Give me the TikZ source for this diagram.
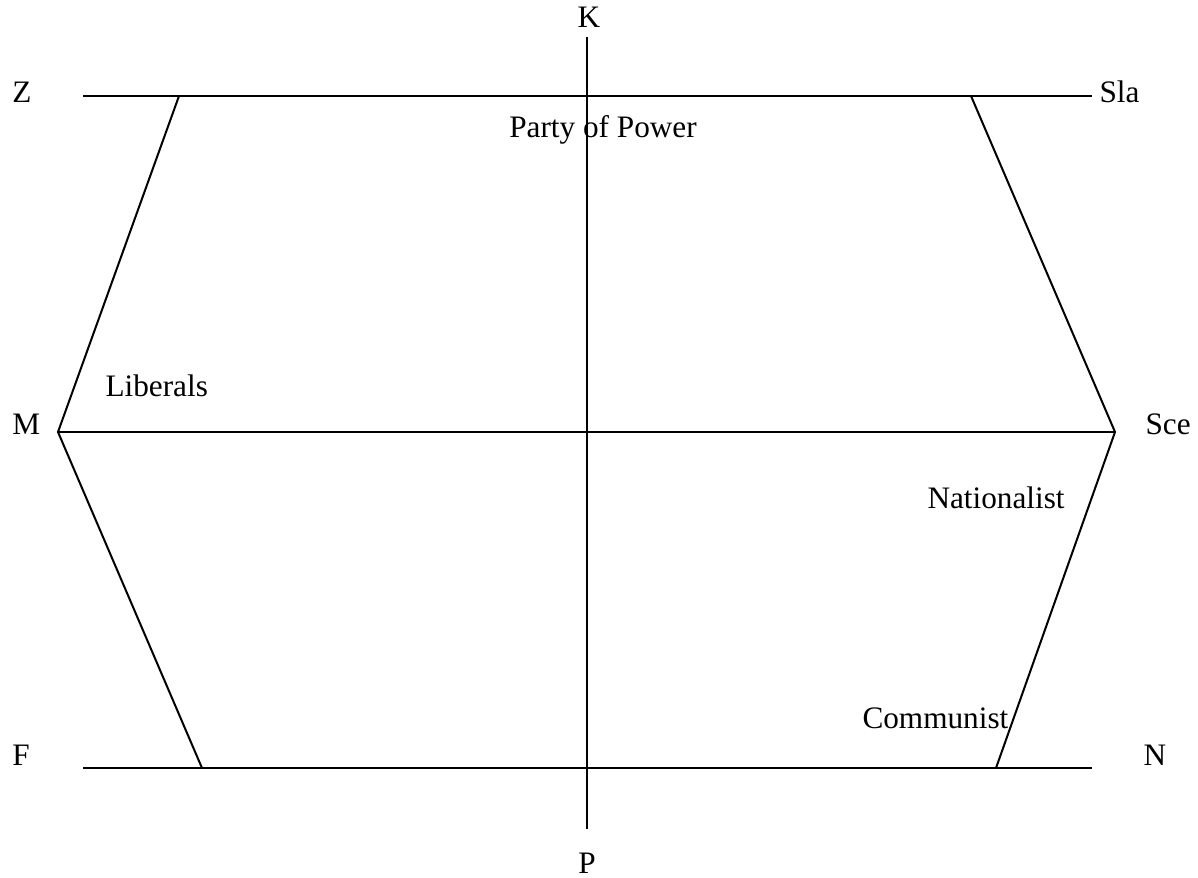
\documentclass[tikz,border=0pt]{standalone}
\usepackage{fontspec}
\setmainfont{Liberation Serif}
\begin{document}
\begin{tikzpicture}[
    x=0.4pt, y=-0.4pt,
    every node/.style={font=\fontsize{12.5}{14}\selectfont, inner sep=0pt},
    axis/.style={line width=0.8pt},
    edge/.style={line width=0.8pt, line join=miter}
]

    \useasboundingbox (0,0) rectangle (1198,878);

    % Ends of the lines
    \coordinate (topw) at (83,96);
    \coordinate (tope) at (1092,96);
    \coordinate (midw) at (58,432);
    \coordinate (mide) at (1115,432);
    \coordinate (botw) at (83,768);
    \coordinate (bote) at (1092,768);
    \coordinate (vtop) at (587,37);
    \coordinate (vbot) at (587,829);

    % Corners of the shape
    \coordinate (tl) at (179,96);
    \coordinate (tr) at (971,96);
    \coordinate (bl) at (202,768);
    \coordinate (br) at (996,768);

    % Pole labels
    \node[anchor=base] (k) at (589,28) {K};
    \node[anchor=base] (p) at (587,873) {P};
    \node[anchor=base west] (z) at (12,103) {Z};
    \node[anchor=base west] (m) at (12,434) {M};
    \node[anchor=base west] (f) at (12,765) {F};
    \node[anchor=base west] (sla) at (1099,103) {Sla};
    \node[anchor=base west] (sce) at (1145,434) {Sce};
    \node[anchor=base west] (n) at (1143,765) {N};

    % Party labels
    \node[anchor=base] (power) at (603,138) {Party of Power};
    \node[anchor=base west] (liberals) at (105,397) {Liberals};
    \node[anchor=base west] (nationalist) at (927,508) {Nationalist};
    \node[anchor=base west] (communist) at (862,728) {Communist};

    % Axes
    \draw[axis] (topw) -- (tope);
    \draw[axis] (midw) -- (mide);
    \draw[axis] (botw) -- (bote);
    \draw[axis] (vtop) -- (vbot);

    % Outline
    \draw[edge] (tl) -- (midw) -- (bl);
    \draw[edge] (tr) -- (mide) -- (br);

\end{tikzpicture}
\end{document}
